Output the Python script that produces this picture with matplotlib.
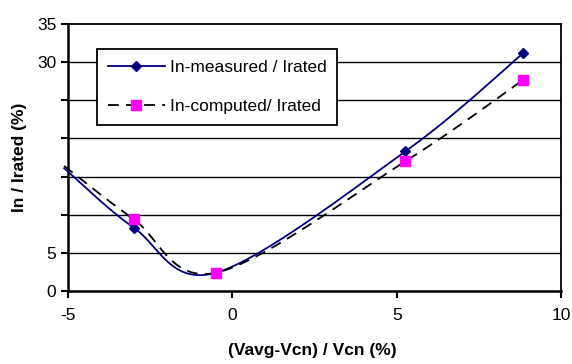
import numpy as np
import matplotlib
matplotlib.use('Agg')
import matplotlib.pyplot as plt
from matplotlib.lines import Line2D

plt.rcParams['font.family'] = ['Liberation Sans', 'DejaVu Sans']

x_vals = [-5.12, -3.0, -0.5, 5.26, 8.85]
measured = [16.1, 8.3, 2.4, 18.3, 31.2]
computed = [16.4, 9.4, 2.4, 17.0, 27.7]
xticks = [-5, 0, 5, 10]
ytick_labels = {0: '0', 5: '5', 30: '30', 35: '35'}


def smooth(xs, ys, n=40):
    # Catmull-Rom style smoothing like the spreadsheet "smoothed line"
    p = np.column_stack([xs, ys]).astype(float)
    p = np.vstack([p[0], p, p[-1]])
    out = []
    for i in range(1, len(p) - 2):
        p0, p1, p2, p3 = p[i - 1], p[i], p[i + 1], p[i + 2]
        c1 = p1 + (p2 - p0) / 6.0
        c2 = p2 - (p3 - p1) / 6.0
        t = np.linspace(0, 1, n)[:, None]
        seg = ((1 - t) ** 3) * p1 + 3 * ((1 - t) ** 2) * t * c1 + 3 * (1 - t) * t ** 2 * c2 + t ** 3 * p2
        out.append(seg if i == 1 else seg[1:])
    s = np.vstack(out)
    return s[:, 0], s[:, 1]


fig = plt.figure(figsize=(5.72, 3.64), dpi=100)
ax = fig.add_axes([0.119, 0.2005, 0.862, 0.7335])

for y in range(5, 35, 5):
    ax.axhline(y, color='black', lw=1.0, zorder=1)

sx, sy = smooth(x_vals, measured)
ax.plot(sx, sy, color='#000080', lw=1.3, zorder=3, clip_on=False)
ax.plot(x_vals[1:], measured[1:], ls='none', marker='D', ms=5.5, color='#000080', zorder=4)

cx, cy = smooth(x_vals, computed)
ax.plot(cx, cy, color='black', lw=1.3, ls=(0, (6, 4)), zorder=3, clip_on=False)
ax.plot(x_vals[1:], computed[1:], ls='none', marker='s', ms=7.5, color='#FF00FF', zorder=5)

ax.set_xlim(-5, 10)
ax.set_ylim(0, 35)
ax.set_xticks(xticks)
ax.set_xticklabels([str(v) for v in xticks])
ax.set_yticks(list(range(0, 40, 5)))
ax.set_yticklabels([ytick_labels.get(v, '') for v in range(0, 40, 5)])
ax.tick_params(axis='both', direction='out', length=5, width=1.5, labelsize=12.5, colors='black')
ax.tick_params(axis='x', pad=7)
for sp in ax.spines.values():
    sp.set_linewidth(1.8)
    sp.set_color('black')
ax.spines['top'].set_linewidth(1.3)
ax.spines['right'].set_linewidth(1.3)

ax.set_ylabel('In / Irated (%)', fontsize=12.5, fontweight='bold', labelpad=7)
fig.text(0.546, 0.038, '(Vavg-Vcn) / Vcn (%)', fontsize=12.5, fontweight='bold', ha='center', va='center')

handles = [
    Line2D([], [], color='#000080', lw=1.3, marker='D', ms=5.5),
    Line2D([], [], color='black', lw=1.3, ls=(0, (6, 4)), marker='s', ms=7.5,
           markerfacecolor='#FF00FF', markeredgecolor='#FF00FF'),
]
leg = ax.legend(handles, ['In-measured / Irated', 'In-computed/ Irated'],
                loc='upper left', bbox_to_anchor=(0.059, 0.906), fontsize=12.5,
                frameon=True, fancybox=False, framealpha=1, edgecolor='black',
                borderpad=0.6, labelspacing=1.4, handlelength=3.3, handletextpad=0.3,
                borderaxespad=0)
leg.get_frame().set_linewidth(1.3)
leg.set_zorder(10)

fig.savefig('out.png', dpi=100)
